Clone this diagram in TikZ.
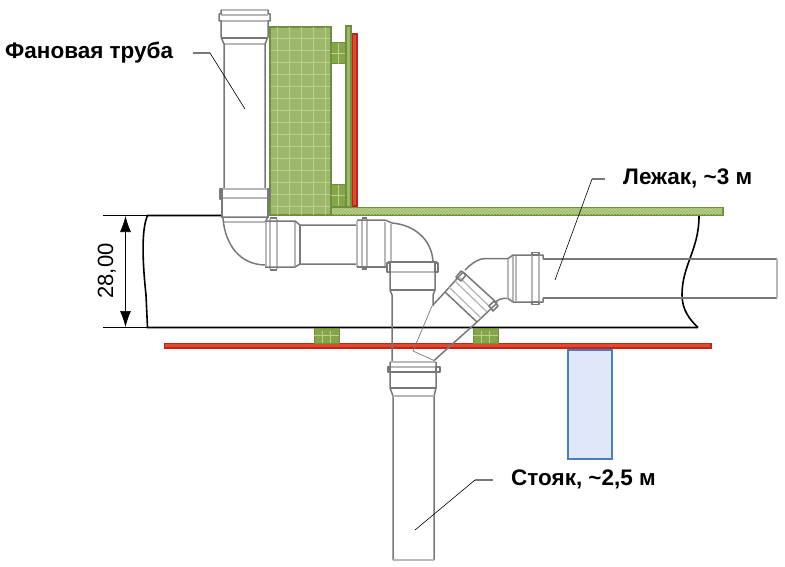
\documentclass[tikz,border=0pt]{standalone}
\usepackage{fontspec}
\setmainfont{Liberation Sans}
\usetikzlibrary{arrows.meta,patterns,positioning}
\definecolor{pipegray}{HTML}{787878}
\definecolor{pipelight}{HTML}{B8B8B8}
\definecolor{woodgreen}{HTML}{9DB86B}
\definecolor{wooddark}{HTML}{6F8F3F}
\definecolor{padgreen}{HTML}{86A548}
\definecolor{woodline}{HTML}{BBD08C}
\definecolor{slabred}{HTML}{E2492A}
\definecolor{slabdark}{HTML}{C4231C}
\definecolor{bluefill}{HTML}{DEE8F7}
\definecolor{blueedge}{HTML}{4A7EC4}
\tikzset{
  pipe/.style={draw=pipegray,line width=1.5pt,line join=round},
  pipelt/.style={draw=pipelight,line width=1.3pt},
  wood/.style={draw=wooddark,line width=1.4pt,fill=woodgreen},
  pad/.style={draw=wooddark,line width=1pt,fill=padgreen},
  grid/.style={draw=woodline,line width=0.7pt},
  slab/.style={draw=slabdark,line width=1.2pt,fill=slabred},
  caption/.style={font=\fontsize{22.5}{26}\selectfont\bfseries,inner sep=0pt,anchor=west},
  leader/.style={draw=black,line width=0.6pt},
  stub/.style={draw=pipegray,line width=1.1pt},
  beamline/.style={draw=black,line width=1.6pt},
}
\begin{document}
\begin{tikzpicture}[x=1pt,y=-1pt]
  \useasboundingbox (0,0) rectangle (785,567);

  % Beam outline
  \draw[beamline] (222,215.5) -- (147.5,215.5) .. controls (143,226) and (141,248) .. (146,295) -- (147.5,327.5) -- (698,327.5);
  \draw[beamline] (330,215.5) -- (270,215.5);
  \draw[beamline] (699,216) .. controls (699,250) and (682,265) .. (682,295) .. controls (682,310) and (690,320) .. (698,327.5);

  % Dimension
  \draw[line width=0.6pt] (103,215.5) -- (147,215.5);
  \draw[line width=0.6pt] (103,327.5) -- (147,327.5);
  \draw[{Latex[length=16pt,width=11pt]}-{Latex[length=16pt,width=11pt]},line width=0.7pt] (125.5,216) -- (125.5,327);
  \node[rotate=90,anchor=base,inner sep=0pt,font=\fontsize{22}{26}\selectfont] (dimtext) at (113,271) {28,00};

  % Wood block with grid
  \draw[wood] (270,27) rectangle (331,215);
  \begin{scope}
    \clip (271,28) rectangle (330,214);
    \foreach \i in {0,...,4} \draw[grid] (277+\i*12,27) -- (277+\i*12,215);
    \foreach \i in {0,...,15} \draw[grid] (270,38+\i*12) -- (331,38+\i*12);
  \end{scope}

  % Brackets
  \draw[pad] (331,43) rectangle (345,64);
  \draw[pad] (331,185) rectangle (345,207);
  \foreach \yy in {43,185} {
    \draw[grid] (338,\yy) -- (338,\yy+21);
    \draw[grid] (331,\yy+10) -- (345,\yy+10);
  }

  % Thin strip and red strip
  \draw[wood] (346,26) rectangle (351,207);
  \draw[slab] (352.5,34) rectangle (357,206);

  % Floor board
  \draw[wood] (331,207.5) rectangle (723,215);
  \fill[pattern=crosshatch,pattern color=woodline] (332,208.5) rectangle (722,214);

  % Red slab
  \draw[slab] (164.5,343.5) rectangle (711,348);

  % Small pads under the beam
  \foreach \xx in {314,473} {
    \draw[pad] (\xx,328) rectangle (\xx+25,343);
    \draw[grid] (\xx+8,331) -- (\xx+8,343);
    \draw[grid] (\xx+16,331) -- (\xx+16,343);
    \draw[grid] (\xx,335) -- (\xx+25,335);
  }

  % Blue block
  \draw[draw=blueedge,line width=1.6pt,fill=bluefill] (568,350) rectangle (612,459);

  % Fan pipe, top socket
  \draw[pipelt] (221,10) -- (268,10);
  \draw[pipelt] (221,15) -- (268,15);
  \draw[pipelt] (221,21) -- (268,21);
  \draw[pipe] (221,38) -- (268,38);
  \draw[pipelt] (224,44) -- (265,44);
  \draw[pipe] (224,190) -- (224,44) -- (221,37) -- (221,21) -- (219,21) -- (219,14) -- (221,14) -- (221,10);
  \draw[pipe] (265,190) -- (265,44) -- (268,37) -- (268,21) -- (270,21) -- (270,14) -- (268,14) -- (268,10);

  % Fan pipe, bottom socket
  \draw[pipelt] (221,189) -- (269,189);
  \draw[pipelt] (221,198) -- (269,198);
  \draw[pipe] (222,189) -- (222,218);
  \draw[pipe] (268,189) -- (268,218);
  \draw[pipe] (220,189) rectangle (222,199);
  \draw[pipe] (268,189) rectangle (270,199);

  % Lower left elbow
  \draw[pipe] (222,217) -- (268,217) -- (265,222);
  \draw[pipelt] (224,222) -- (265,222);
  \draw[pipe] (223,218) .. controls (225,245) and (240,264.5) .. (265,265);

  % Horizontal pipe, first socket
  \draw[pipelt] (266,220) -- (266,268);
  \draw[pipelt] (270,219) -- (270,269);
  \draw[pipelt] (277,219) -- (277,269);
  \draw[pipelt] (295,222) -- (295,266);
  \draw[pipe] (270,218) -- (277,218);
  \draw[pipe] (270,270) -- (277,270);
  \draw[pipe] (265,221) -- (295,221) -- (300,225) -- (357,225);
  \draw[pipe] (265,267) -- (295,267) -- (300,264) -- (357,264);
  \draw[pipe] (300,225) -- (300,264);

  % Second socket and upper elbow
  \draw[pipelt] (357,221) -- (357,267);
  \draw[pipelt] (385,222) -- (385,266);
  \draw[pipelt] (391,224) -- (391,262);
  \draw[pipelt] (362,219) -- (362,268);
  \draw[pipelt] (367,219) -- (367,268);
  \draw[pipe] (362,218) -- (367,218);
  \draw[pipe] (362,269) -- (367,269);
  \draw[pipe] (357,220) -- (385,220) -- (392,223) .. controls (415,225) and (432,240) .. (433,262);
  \draw[pipe] (357,267) -- (388,267);

  % Vertical socket under elbow
  \draw[pipe] (388,262) -- (437,262);
  \draw[pipelt] (390,272) -- (435,272);
  \draw[pipe] (390,290) -- (435,290);
  \draw[pipe] (387,263) rectangle (390,272);
  \draw[pipe] (435,263) rectangle (438,272);
  \draw[pipe] (390,272) -- (390,290) -- (392,295) -- (392,362);
  \draw[pipe] (435,272) -- (435,290) -- (433,295) -- (433,306);

  % Tee branch
  \draw[draw=pipegray,line width=0.7pt] (432,306) -- (413,351) -- (434,360.5);
  \draw[pipe] (433,305) -- (445,292);
  \draw[pipe] (434,360.5) -- (477,322);

  % Oblique socket
  \draw[pipe] (445,292) -- (477,322);
  \draw[pipe] (463,272) -- (497,303);
  \draw[pipe] (445,292) -- (463,272);
  \draw[pipe] (477,322) -- (497,303);
  \draw[pipelt] (449,287) -- (481,318);
  \draw[pipelt] (455,281) -- (487,312);
  \draw[pipelt] (459,277) -- (491,308);
  \draw[pipe] (456,277) -- (461,271) -- (466,275) -- (461,281) -- cycle;
  \draw[pipe] (489,306) -- (494,301) -- (498,306) -- (493,311) -- cycle;

  % Elbow to the long pipe
  \draw[pipe] (465,270) .. controls (473,262) and (480,258) .. (487,258.5) -- (508,258.5);
  \draw[pipe] (495,303) .. controls (498,299) and (502,298) .. (508,298.5);
  \draw[pipelt] (508,258.5) -- (508,298.5);
  \draw[pipelt] (513,256) -- (513,301);
  \draw[pipelt] (516,256) -- (516,301);
  \draw[pipe] (508,258.5) -- (513,255) -- (543,255) -- (543,259);
  \draw[pipe] (508,298.5) -- (513,302) -- (543,302) -- (543,298);
  \draw[pipelt] (532,254) -- (532,303);
  \draw[pipelt] (539,254) -- (539,303);
  \draw[pipe] (532,252.5) rectangle (539,255);
  \draw[pipe] (532,302) rectangle (539,304.5);
  \draw[pipe] (543,259) -- (777,259);
  \draw[pipe] (543,298) -- (777,298);
  \draw[pipelt] (777,259) -- (777,298);

  % Riser
  \draw[pipelt] (390,362) -- (436,362);
  \draw[pipelt] (390,367) -- (436,367);
  \draw[pipe] (390,372) -- (436,372);
  \draw[pipe] (388,367) rectangle (390,372);
  \draw[pipe] (436,367) rectangle (440,372);
  \draw[pipe] (390,362) -- (390,388) -- (393,396) -- (393,560);
  \draw[pipe] (436,362) -- (436,388) -- (434,396) -- (434,560);
  \draw[pipe] (390,388) -- (436,388);
  \draw[pipelt] (393,396) -- (434,396);
  \draw[pipelt] (393,560) -- (434,560);

  % Labels
  \node[caption] (fanlabel) at (5,52.5) {Фановая труба};
  \node[caption] (lezhaklabel) at (623,178) {Лежак, \textasciitilde3 м};
  \node[caption] (stoyaklabel) at (511,479) {Стояк, \textasciitilde2,5 м};

  % Leaders
  \coordinate (fanend) at (245,109);
  \coordinate (lezhakend) at (555,280);
  \coordinate (stoyakend) at (415,530);
  \coordinate (fanknee) at (210,53);
  \coordinate (lezhakknee) at (592,179);
  \coordinate (stoyakknee) at (475,480);
  \coordinate (fanstub) at (193,53);
  \coordinate (lezhakstub) at (605,179);
  \coordinate (stoyakstub) at (493,480);
  \draw[stub] (fanstub) -- (fanknee);
  \draw[stub] (lezhakstub) -- (lezhakknee);
  \draw[stub] (stoyakstub) -- (stoyakknee);
  \draw[leader] (fanknee) -- (fanend);
  \draw[leader] (lezhakknee) -- (lezhakend);
  \draw[leader] (stoyakknee) -- (stoyakend);
\end{tikzpicture}
\end{document}
